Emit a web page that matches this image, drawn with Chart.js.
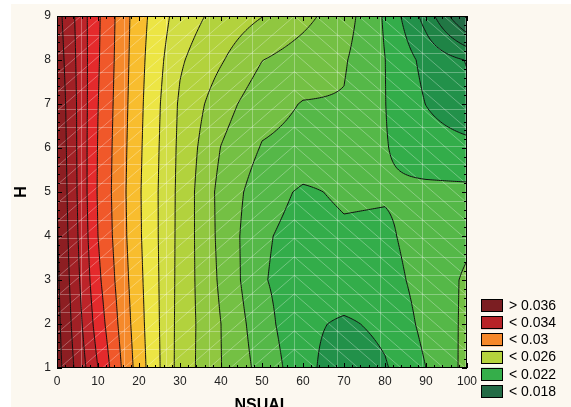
<!DOCTYPE html>
<html>
<head>
<meta charset="utf-8">
<script src="https://cdn.jsdelivr.net/npm/chart.js@4.4.0/dist/chart.umd.min.js"></script>
<style>
  html, body { margin: 0; padding: 0; background: #fff; }
  #wrap { width: 571px; height: 407px; }
</style>
</head>
<body>
<div id="wrap"><canvas id="myChart" width="571" height="407"></canvas></div>
<script>
// grid nodes: NSUAL along x, H along y
const nsual = [0, 10, 20, 30, 40, 50, 60, 70, 80, 90, 100]
const hLevels = [1, 2, 3, 4, 5, 6, 7, 8, 9]

// response, one row per H value
const rowH1 = [0.0364, 0.0330, 0.02950, 0.02659, 0.02502, 0.02365, 0.02238, 0.02126, 0.02190, 0.02300, 0.02428]
const rowH2 = [0.0363, 0.03255, 0.02936, 0.02663, 0.02500, 0.02338, 0.02225, 0.02183, 0.02225, 0.02326, 0.02420]
const rowH3 = [0.0362, 0.03222, 0.02925, 0.02667, 0.02482, 0.02309, 0.02245, 0.02270, 0.02260, 0.02338, 0.02415]
const rowH4 = [0.0361, 0.03200, 0.02915, 0.02670, 0.02472, 0.02315, 0.02260, 0.02285, 0.02280, 0.02350, 0.02380]
const rowH5 = [0.0360, 0.03191, 0.02912, 0.02672, 0.02468, 0.02345, 0.02285, 0.02315, 0.02310, 0.02320, 0.02320]
const rowH6 = [0.0359, 0.03195, 0.02918, 0.02677, 0.02497, 0.02393, 0.02370, 0.02350, 0.02305, 0.02250, 0.02232]
const rowH7 = [0.0358, 0.03202, 0.02925, 0.02685, 0.02543, 0.02437, 0.02395, 0.02393, 0.02302, 0.02198, 0.02120]
const rowH8 = [0.0356, 0.03210, 0.02932, 0.02713, 0.02609, 0.02502, 0.02453, 0.02410, 0.02301, 0.02168, 0.02095]
const rowH9 = [0.0354, 0.03215, 0.02939, 0.02753, 0.02665, 0.02603, 0.02529, 0.02446, 0.02288, 0.02060, 0.01780]
const zGrid = [rowH1, rowH2, rowH3, rowH4, rowH5, rowH6, rowH7, rowH8, rowH9]

// contour levels and band colours (lowest band first)
const levels = [0.018, 0.019, 0.020, 0.021, 0.022, 0.023, 0.024, 0.025, 0.026, 0.027,
                0.028, 0.029, 0.030, 0.031, 0.032, 0.033, 0.034, 0.035, 0.036]
const bandColors = ['#1f6440', '#236b45', '#217744', '#1f8446', '#22914a', '#33ad4a', '#55b848',
                    '#74c044', '#90c740', '#b2d23d', '#d0dd44', '#ece544', '#f8bd2e', '#f5892b',
                    '#f0582a', '#e42a2c', '#bd2429', '#a12025', '#8d1e22', '#7b1c1f']

const legendLabels = ['> 0.036', '< 0.034', '< 0.03', '< 0.026', '< 0.022', '< 0.018']
const legendColors = ['#7b1e22', '#b82227', '#f6882a', '#b5d33c', '#35ae4a', '#236b45']

const xTicks = [0, 10, 20, 30, 40, 50, 60, 70, 80, 90, 100]
const yTicks = [1, 2, 3, 4, 5, 6, 7, 8, 9]

const FONT = "'Liberation Sans', Arial, sans-serif"

function zAt(x, y) {
    const nx = nsual.length - 1, ny = hLevels.length - 1
    let i = 0, j = 0
    while (i < nx - 1 && x > nsual[i + 1]) i++
    while (j < ny - 1 && y > hLevels[j + 1]) j++
    const tx = (x - nsual[i]) / (nsual[i + 1] - nsual[i])
    const ty = (y - hLevels[j]) / (hLevels[j + 1] - hLevels[j])
    const z00 = zGrid[j][i], z10 = zGrid[j][i + 1]
    const z01 = zGrid[j + 1][i], z11 = zGrid[j + 1][i + 1]
    return z00 * (1 - tx) * (1 - ty) + z10 * tx * (1 - ty) + z01 * (1 - tx) * ty + z11 * tx * ty
}

function bandIndex(z) {
    let k = 0
    while (k < levels.length && z >= levels[k]) k++
    return k
}

const hexToRgb = h => [parseInt(h.slice(1, 3), 16), parseInt(h.slice(3, 5), 16), parseInt(h.slice(5, 7), 16)]

const contourPlugin = {
    id: 'contour',
    beforeDraw(chart) {
        const ctx = chart.ctx
        ctx.save()
        ctx.fillStyle = '#fcf8f0'
        ctx.fillRect(11, 4, chart.width - 11, chart.height - 4)
        ctx.restore()
    },
    beforeDatasetsDraw(chart) {
        const { ctx, chartArea: a, scales: { x: xs, y: ys } } = chart
        const L = Math.round(a.left), T = Math.round(a.top)
        const W = Math.round(a.right) - L, H = Math.round(a.bottom) - T

        // filled bands
        const rgb = bandColors.map(hexToRgb)
        const img = ctx.createImageData(W, H)
        for (let r = 0; r < H; r++) {
            const yv = ys.getValueForPixel(T + r + 0.5)
            for (let c = 0; c < W; c++) {
                const xv = xs.getValueForPixel(L + c + 0.5)
                const col = rgb[bandIndex(zAt(xv, yv))]
                const p = (r * W + c) * 4
                img.data[p] = col[0]; img.data[p + 1] = col[1]; img.data[p + 2] = col[2]; img.data[p + 3] = 255
            }
        }
        ctx.putImageData(img, L, T)

        ctx.save()
        ctx.beginPath()
        ctx.rect(a.left, a.top, a.right - a.left, a.bottom - a.top)
        ctx.clip()

        // faint triangulation mesh
        const meshX = [], meshY = []
        for (let v = 5.85; v <= 100.5; v += 10.41) meshX.push(v)
        for (let k = 0; k <= 19; k++) meshY.push(1 + k * 8 / 19)
        ctx.strokeStyle = 'rgba(255,255,255,0.3)'
        ctx.lineWidth = 1
        ctx.beginPath()
        meshX.forEach(v => { const px = Math.round(xs.getPixelForValue(v)) + 0.5; ctx.moveTo(px, a.top); ctx.lineTo(px, a.bottom) })
        meshY.forEach(v => { const py = Math.round(ys.getPixelForValue(v)) + 0.5; ctx.moveTo(a.left, py); ctx.lineTo(a.right, py) })
        const colsX = [meshX[0] - 10.41].concat(meshX, [meshX[meshX.length - 1] + 10.41])
        for (let i = 0; i < colsX.length - 1; i++) {
            const x0 = colsX[i], x1 = colsX[i + 1]
            const slash = (x0 + x1) / 2 < 53
            for (let k = -2; k <= 20; k++) {
                const y0 = 1 + k * 8 / 19, y1 = 1 + (k + 2) * 8 / 19
                if (slash) {
                    ctx.moveTo(xs.getPixelForValue(x0), ys.getPixelForValue(y0))
                    ctx.lineTo(xs.getPixelForValue(x1), ys.getPixelForValue(y1))
                } else {
                    ctx.moveTo(xs.getPixelForValue(x0), ys.getPixelForValue(y1))
                    ctx.lineTo(xs.getPixelForValue(x1), ys.getPixelForValue(y0))
                }
            }
        }
        ctx.stroke()

        // contour lines by marching squares on a fine sampling
        const nx = 200, ny = 160
        const x0 = nsual[0], x1 = nsual[nsual.length - 1]
        const y0 = hLevels[0], y1 = hLevels[hLevels.length - 1]
        const gx = [], gy = [], f = []
        for (let i = 0; i <= nx; i++) gx.push(x0 + (x1 - x0) * i / nx)
        for (let j = 0; j <= ny; j++) gy.push(y0 + (y1 - y0) * j / ny)
        for (let j = 0; j <= ny; j++) f.push(gx.map(xv => zAt(xv, gy[j])))
        const px = gx.map(v => xs.getPixelForValue(v))
        const py = gy.map(v => ys.getPixelForValue(v))

        ctx.strokeStyle = '#111'
        ctx.lineWidth = 1
        ctx.beginPath()
        levels.forEach(lv => {
            for (let j = 0; j < ny; j++) {
                for (let i = 0; i < nx; i++) {
                    const c = [[i, j], [i + 1, j], [i + 1, j + 1], [i, j + 1]]
                    const v = c.map(([a1, b1]) => f[b1][a1])
                    const pts = []
                    for (let e = 0; e < 4; e++) {
                        const va = v[e], vb = v[(e + 1) % 4]
                        if ((va >= lv) !== (vb >= lv)) {
                            const t = (lv - va) / (vb - va)
                            const [ia, ja] = c[e], [ib, jb] = c[(e + 1) % 4]
                            pts.push([px[ia] + (px[ib] - px[ia]) * t, py[ja] + (py[jb] - py[ja]) * t])
                        }
                    }
                    if (pts.length === 2) {
                        ctx.moveTo(pts[0][0], pts[0][1]); ctx.lineTo(pts[1][0], pts[1][1])
                    } else if (pts.length === 4) {
                        ctx.moveTo(pts[0][0], pts[0][1]); ctx.lineTo(pts[1][0], pts[1][1])
                        ctx.moveTo(pts[2][0], pts[2][1]); ctx.lineTo(pts[3][0], pts[3][1])
                    }
                }
            }
        })
        ctx.stroke()
        ctx.restore()

        // frame and inside tick marks
        ctx.save()
        ctx.strokeStyle = '#000'
        ctx.lineWidth = 1
        ctx.strokeRect(L + 0.5, T + 0.5, W - 1, H - 1)
        ctx.beginPath()
        for (let v = 0; v <= 100; v += 2) {
            const p = Math.round(xs.getPixelForValue(v)) + 0.5
            const len = v % 10 === 0 ? 5 : 3
            ctx.moveTo(p, a.bottom); ctx.lineTo(p, a.bottom - len)
            ctx.moveTo(p, a.top); ctx.lineTo(p, a.top + len)
        }
        for (let k = 0; k <= 40; k++) {
            const v = 1 + k * 0.2
            const p = Math.round(ys.getPixelForValue(v)) + 0.5
            const len = k % 5 === 0 ? 5 : 3
            ctx.moveTo(a.left, p); ctx.lineTo(a.left + len, p)
            ctx.moveTo(a.right, p); ctx.lineTo(a.right - len, p)
        }
        ctx.stroke()
        ctx.restore()
    },
    afterDraw(chart) {
        const ctx = chart.ctx
        ctx.save()
        ctx.font = '14px ' + FONT
        ctx.textBaseline = 'middle'
        ctx.textAlign = 'left'
        legendLabels.forEach((lab, i) => {
            const top = 299 + i * 17.2
            ctx.fillStyle = legendColors[i]
            ctx.fillRect(481, top, 22, 13)
            ctx.strokeStyle = '#000'
            ctx.lineWidth = 1
            ctx.strokeRect(481.5, Math.round(top) + 0.5, 21, 12)
            ctx.fillStyle = '#000'
            ctx.fillText(lab, 509, top + 7)
        })
        ctx.restore()
    }
}

window.addEventListener('load', function () {
    const ctx = document.getElementById('myChart')
    const nodes = []
    hLevels.forEach((h, j) => nsual.forEach((n, i) => nodes.push({ x: n, y: h, z: zGrid[j][i] })))

    new Chart(ctx, {
        type: 'scatter',
        data: {
            datasets: [{
                data: nodes,
                pointRadius: 0,
                showLine: false
            }]
        },
        options: {
            responsive: false,
            devicePixelRatio: 1,
            animation: false,
            events: [],
            layout: { padding: { left: 0, right: 104, top: 16, bottom: 0 } },
            plugins: {
                legend: { display: false },
                tooltip: { enabled: false }
            },
            scales: {
                x: {
                    type: 'linear',
                    min: 0, max: 100,
                    afterFit: s => { s.height = 39 },
                    afterBuildTicks: s => { s.ticks = xTicks.map(v => ({ value: v })) },
                    grid: { display: false, drawTicks: false },
                    border: { display: false },
                    ticks: { color: '#222', padding: 6, maxRotation: 0, font: { family: FONT, size: 12 } },
                    title: { display: true, text: 'NSUAL', color: '#000', padding: { top: 0, bottom: -8 }, font: { family: FONT, size: 16, weight: 'bold' } }
                },
                y: {
                    type: 'linear',
                    min: 1, max: 9,
                    afterFit: s => { s.width = 57 },
                    afterBuildTicks: s => { s.ticks = yTicks.map(v => ({ value: v })) },
                    grid: { display: false, drawTicks: false },
                    border: { display: false },
                    ticks: { color: '#222', padding: 6, font: { family: FONT, size: 12 } },
                    title: { display: true, text: 'H', color: '#000', padding: { top: 12, bottom: 0 }, font: { family: FONT, size: 16, weight: 'bold' } }
                }
            }
        },
        plugins: [contourPlugin]
    })
})
</script>
</body>
</html>
